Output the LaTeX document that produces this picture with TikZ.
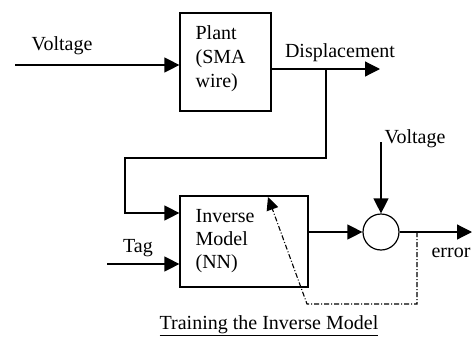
\documentclass[tikz,border=0pt]{standalone}
\usepackage{fontspec}
\setmainfont{Liberation Serif}
\usetikzlibrary{arrows.meta}
\begin{document}
\begin{tikzpicture}[x=1pt,y=-1pt,
  line width=1.2pt,
  every node/.style={font=\fontsize{20}{24}\selectfont, inner sep=0pt},
  blk/.style={draw, rectangle},
  sumnode/.style={draw, circle, minimum size=36pt},
  lbl/.style={anchor=base},
  txt/.style={anchor=base west, align=left},
  arr/.style={-{Triangle[length=15pt,width=15pt]}},
  darr/.style={-{Triangle[length=13pt,width=12pt]}, dash pattern=on 5pt off 2pt on 1pt off 2pt}
]
\useasboundingbox (0,0) rectangle (472,338);
% blocks
\node[blk, minimum width=91pt, minimum height=98pt] (plant) at (225.5,62) {};
\node[txt] (plantt) at (195,87) {Plant\\(SMA\\wire)};
\node[blk, minimum width=128pt, minimum height=91pt] (inv) at (244,241.5) {};
\node[txt, font=\fontsize{20}{23}\selectfont] (invt) at (195,268) {Inverse\\Model\\(NN)};
\node[sumnode] (sum) at (381,232) {};
% coordinates
\coordinate (vin) at (15,65);
\coordinate (dout) at (380,69);
\coordinate (br) at (326,69);
\coordinate (c1) at (326,158);
\coordinate (c2) at (125,158);
\coordinate (c3) at (125,213);
\coordinate (tag) at (107,264);
\coordinate (v2) at (381,142);
\coordinate (err) at (472,232);
\coordinate (d1) at (417,232);
\coordinate (d2) at (417,304);
\coordinate (d3) at (307,304);
\coordinate (d4) at (268,197);
% connectors
\draw[arr] (vin) -- (vin -| plant.west);
\draw[arr] (dout -| plant.east) -- (dout);
\draw[arr] (br) -- (c1) -- (c2) -- (c3) -- (c3 -| inv.west);
\draw[arr] (tag) -- (tag -| inv.west);
\draw[arr] (inv.east |- sum) -- (sum.west);
\draw[arr] (v2) -- (sum.north);
\draw[arr] (sum.east) -- (err);
\draw[darr, line width=1.1pt] (d1) -- (d2) -- (d3) -- (d4);
% labels
\node[lbl] (lv1) at (62,50) {Voltage};
\node[lbl] (ldisp) at (340,57) {Displacement};
\node[lbl] (lv2) at (415,143) {Voltage};
\node[lbl] (ltag) at (138,252) {Tag};
\node[lbl] (lerr) at (451,257) {error};
\node[lbl] (cap) at (269,329) {\underline{Training the Inverse Model}};
\end{tikzpicture}
\end{document}
